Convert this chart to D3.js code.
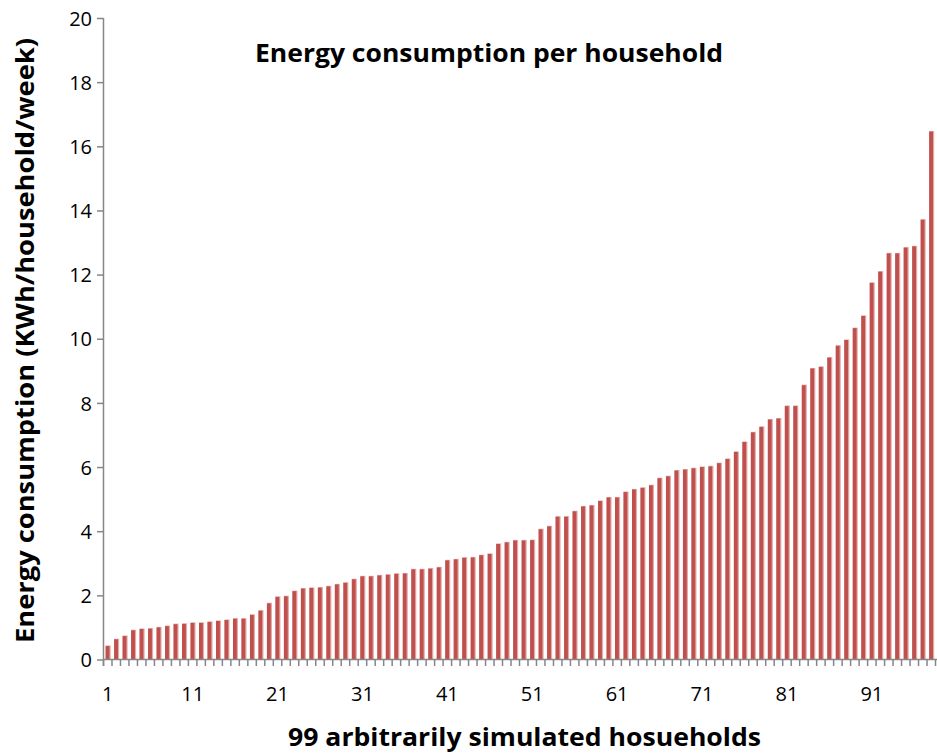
<!DOCTYPE html>
<html>
<head>
<meta charset="utf-8">
<script src="https://cdn.jsdelivr.net/npm/d3@7"></script>
<style>
  html, body { margin: 0; padding: 0; background: #fff; }
  svg { display: block; }
  text { font-family: "Open Sans", "Noto Sans", sans-serif; fill: #000; }
</style>
</head>
<body>
<svg id="chart" width="937" height="756"></svg>
<script>
// ---- data ----
const categories = d3.range(1, 100);          // 99 households (last one lies beyond the visible frame)
const values = [
  0.42, 0.63, 0.73, 0.91, 0.95, 0.96, 1.00, 1.04, 1.10, 1.11,
  1.14, 1.14, 1.17, 1.20, 1.23, 1.27, 1.27, 1.39, 1.52, 1.75,
  1.95, 1.97, 2.13, 2.21, 2.23, 2.24, 2.28, 2.34, 2.39, 2.50,
  2.59, 2.59, 2.62, 2.64, 2.67, 2.68, 2.81, 2.81, 2.83, 2.87,
  3.09, 3.12, 3.17, 3.18, 3.25, 3.29, 3.60, 3.65, 3.71, 3.71,
  3.72, 4.06, 4.15, 4.45, 4.45, 4.62, 4.77, 4.80, 4.94, 5.05,
  5.05, 5.22, 5.30, 5.35, 5.43, 5.65, 5.71, 5.89, 5.92, 5.96,
  6.00, 6.02, 6.12, 6.25, 6.47, 6.78, 7.08, 7.25, 7.48, 7.51,
  7.90, 7.90, 8.55, 9.07, 9.12, 9.41, 9.78, 9.96, 10.33, 10.71,
  11.74, 12.09, 12.66, 12.66, 12.84, 12.88, 13.71, 16.46
];
const xTickLabels = [1, 11, 21, 31, 41, 51, 61, 71, 81, 91];
const yTicks = [0, 2, 4, 6, 8, 10, 12, 14, 16, 18, 20];
const chartTitle = "Energy consumption per household";
const xTitle = "99 arbitrarily simulated hosueholds";
const yTitle = "Energy consumption (KWh/household/week)";

// ---- layout ----
const svg = d3.select("#chart");
const plotLeft = 103.5, plotRight = 944, plotTop = 18, plotBottom = 659.5;
const axisColor = "#868686";

const x = d3.scaleBand().domain(categories).range([plotLeft, plotRight])
  .paddingInner(0.5).paddingOuter(0.25);
const y = d3.scaleLinear().domain([0, 20]).range([plotBottom, plotTop]);
const step = x.step(), bw = x.bandwidth();

const data = values.map((v, i) => ({ c: categories[i], v }));

// bars
const bars = svg.append("g");
bars.selectAll("rect.edge").data(data).join("rect")
  .attr("class", "edge")
  .attr("x", d => x(d.c))
  .attr("y", d => y(d.v) - 0.6)
  .attr("width", bw + 0.8)
  .attr("height", d => plotBottom - y(d.v) + 0.6)
  .attr("fill", "#E3ABAA");
bars.selectAll("rect.bar").data(data).join("rect")
  .attr("class", "bar")
  .attr("x", d => x(d.c))
  .attr("y", d => y(d.v))
  .attr("width", bw - 0.4)
  .attr("height", d => plotBottom - y(d.v))
  .attr("fill", "#C0504D");

// y axis
const yAxis = d3.axisLeft(y).tickValues(yTicks).tickSize(6.5).tickPadding(5).tickFormat(d3.format("d"));
const gy = svg.append("g").attr("transform", `translate(${plotLeft},0)`).call(yAxis);
gy.select(".domain").attr("stroke", axisColor).attr("stroke-width", 1.5)
  .attr("d", `M0,${plotTop}V${plotBottom + 6.5}`);
gy.selectAll(".tick line").attr("stroke", axisColor).attr("stroke-width", 1.5);
gy.selectAll(".tick text").attr("font-size", 20).attr("fill", "#000")
  .attr("font-family", "'Open Sans', sans-serif").attr("x", -11.5).attr("dy", "0.36em");

// x axis: line + boundary ticks
const gx = svg.append("g");
gx.append("line").attr("x1", plotLeft).attr("x2", plotRight).attr("y1", plotBottom).attr("y2", plotBottom)
  .attr("stroke", axisColor).attr("stroke-width", 1.5);
const boundaries = categories.map(c => x(c) - (step - bw) / 2).concat([plotRight]);
gx.selectAll("line.tk").data(boundaries).join("line").attr("class", "tk")
  .attr("x1", d => d).attr("x2", d => d)
  .attr("y1", plotBottom).attr("y2", plotBottom + 6.5)
  .attr("stroke", axisColor).attr("stroke-width", 1.5);
gx.selectAll("text.lbl").data(xTickLabels).join("text").attr("class", "lbl")
  .attr("x", d => x(d) + bw / 2)
  .attr("y", 701)
  .attr("text-anchor", "middle")
  .attr("font-size", 20)
  .text(d => d);

// titles
svg.append("text").attr("x", 489).attr("y", 62)
  .attr("text-anchor", "middle").attr("font-size", 25).attr("font-weight", 700)
  .attr("textLength", 468).attr("lengthAdjust", "spacingAndGlyphs")
  .text(chartTitle);
svg.append("text").attr("x", 524.5).attr("y", 746)
  .attr("text-anchor", "middle").attr("font-size", 25).attr("font-weight", 700)
  .attr("textLength", 473).attr("lengthAdjust", "spacingAndGlyphs")
  .text(xTitle);
svg.append("text").attr("transform", "translate(34,340.5) rotate(-90)")
  .attr("text-anchor", "middle").attr("font-size", 25).attr("font-weight", 700)
  .attr("textLength", 605).attr("lengthAdjust", "spacingAndGlyphs")
  .text(yTitle);
</script>
</body>
</html>
